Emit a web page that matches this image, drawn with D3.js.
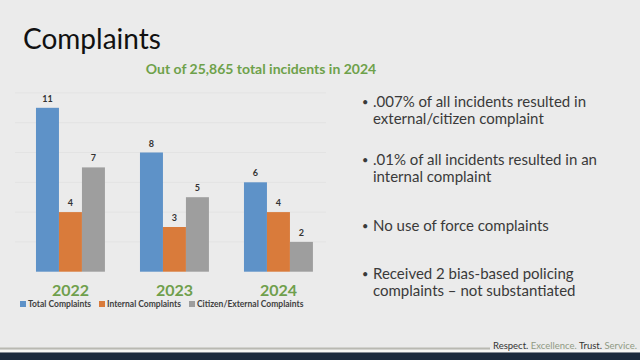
<!DOCTYPE html>
<html>
<head>
<meta charset="utf-8">
<script src="https://cdn.jsdelivr.net/npm/d3@7"></script>
<style>
  body { margin: 0; background: #ebebeb; }
  svg { display: block; font-family: Lato, "Open Sans", sans-serif; }
</style>
</head>
<body>
<svg id="chart" width="640" height="360"></svg>
<script>
// chart data
const years = ["2022", "2023", "2024"];
const seriesNames = ["Total Complaints", "Internal Complaints", "Citizen/External Complaints"];
const totalComplaints = [11, 8, 6];
const internalComplaints = [4, 3, 4];
const externalComplaints = [7, 5, 2];
const gridTicks = [2, 4, 6, 8, 10, 12];
const seriesColors = ["#5e92c8", "#d97b3b", "#9e9e9e"];

const bullets = [
  [".007% of all incidents resulted in", "external/citizen complaint"],
  [".01% of all incidents resulted in an", "internal complaint"],
  ["No use of force complaints"],
  ["Received 2 bias-based policing", "complaints \u2013 not substantiated"]
];
const bulletTops = [107, 165, 231, 279];

const svg = d3.select("#chart");

// title + subtitle
svg.append("text").attr("x", 23).attr("y", 49)
  .style("font-size", "28px").style("fill", "#111")
  .text("Complaints");

svg.append("text").attr("x", 261).attr("y", 74).attr("text-anchor", "middle")
  .style("font-size", "14px").style("font-weight", "bold").style("fill", "#6ea14a")
  .text("Out of 25,865 total incidents in 2024");

// scales
const x0 = d3.scaleBand().domain(years).range([18.3, 330.6]).paddingInner(0.337).paddingOuter(0.17);
const x1 = d3.scaleBand().domain(seriesNames).range([0, x0.bandwidth()]);
const y = d3.scaleLinear().domain([0, 12]).range([271.7, 92.9]);

// very faint gridlines
svg.append("g").selectAll("line").data(gridTicks).enter().append("line")
  .attr("x1", 15).attr("x2", 326)
  .attr("y1", d => y(d)).attr("y2", d => y(d))
  .style("stroke", "#e3e3e3").style("stroke-width", 1);

const rows = years.map((yr, i) => ({
  year: yr,
  vals: [totalComplaints[i], internalComplaints[i], externalComplaints[i]]
}));

const groups = svg.append("g").selectAll("g").data(rows).enter().append("g")
  .attr("transform", d => "translate(" + x0(d.year) + ",0)");

groups.selectAll("rect").data(d => d.vals.map((v, j) => ({ name: seriesNames[j], v: v, j: j })))
  .enter().append("rect")
  .attr("x", d => x1(d.name)).attr("width", x1.bandwidth())
  .attr("y", d => y(d.v)).attr("height", d => y(0) - y(d.v))
  .style("fill", d => seriesColors[d.j]);

groups.selectAll("text.val").data(d => d.vals.map((v, j) => ({ name: seriesNames[j], v: v })))
  .enter().append("text").attr("class", "val")
  .attr("x", d => x1(d.name) + x1.bandwidth() / 2).attr("y", d => y(d.v) - 6)
  .attr("text-anchor", "middle")
  .style("font-size", "9px").style("font-weight", "bold").style("fill", "#333")
  .text(d => d.v);

// year labels
svg.append("g").selectAll("text").data(years).enter().append("text")
  .attr("x", d => x0(d) + x0.bandwidth() / 2).attr("y", 296)
  .attr("text-anchor", "middle")
  .style("font-size", "16px").style("font-weight", "bold").style("fill", "#6f9f4c")
  .text(d => d);

// legend
const legendX = [20, 99, 189];
const legend = svg.append("g").selectAll("g").data(seriesNames).enter().append("g")
  .attr("transform", (d, i) => "translate(" + legendX[i] + ",301)");
legend.append("rect").attr("width", 6).attr("height", 6)
  .style("fill", (d, i) => seriesColors[i]);
legend.append("text").attr("x", 8).attr("y", 6)
  .style("font-size", "8.5px").style("font-weight", "bold").style("fill", "#404040")
  .text(d => d);

// bullet text on the right
const bl = svg.append("g").selectAll("g").data(bullets).enter().append("g")
  .attr("transform", (d, i) => "translate(0," + bulletTops[i] + ")");
bl.append("text").attr("x", 362).attr("y", -1)
  .style("font-size", "11px").style("fill", "#3a3a3a").text("\u2022");
bl.selectAll("text.line").data(d => d).enter().append("text").attr("class", "line")
  .attr("x", 373).attr("y", (d, i) => i * 17)
  .style("font-size", "15px").style("fill", "#3a3a3a")
  .text(d => d);

// footer
svg.append("rect").attr("x", 0).attr("y", 347.5).attr("width", 490).attr("height", 2).style("fill", "#b9b9b2");
svg.append("rect").attr("x", 0).attr("y", 350).attr("width", 640).attr("height", 2).style("fill", "#f7f7f4");
svg.append("rect").attr("x", 0).attr("y", 352.5).attr("width", 640).attr("height", 8).style("fill", "#1c2b3d");

const motto = [["Respect.", "#333"], ["Excellence.", "#8f9a83"], ["Trust.", "#333"], ["Service.", "#8f9a83"]];
const mt = svg.append("text").attr("x", 493).attr("y", 349)
  .style("font-size", "9.5px");
mt.selectAll("tspan").data(motto).enter().append("tspan")
  .text((d, i) => (i ? " " : "") + d[0]).style("fill", d => d[1]);
</script>
</body>
</html>
